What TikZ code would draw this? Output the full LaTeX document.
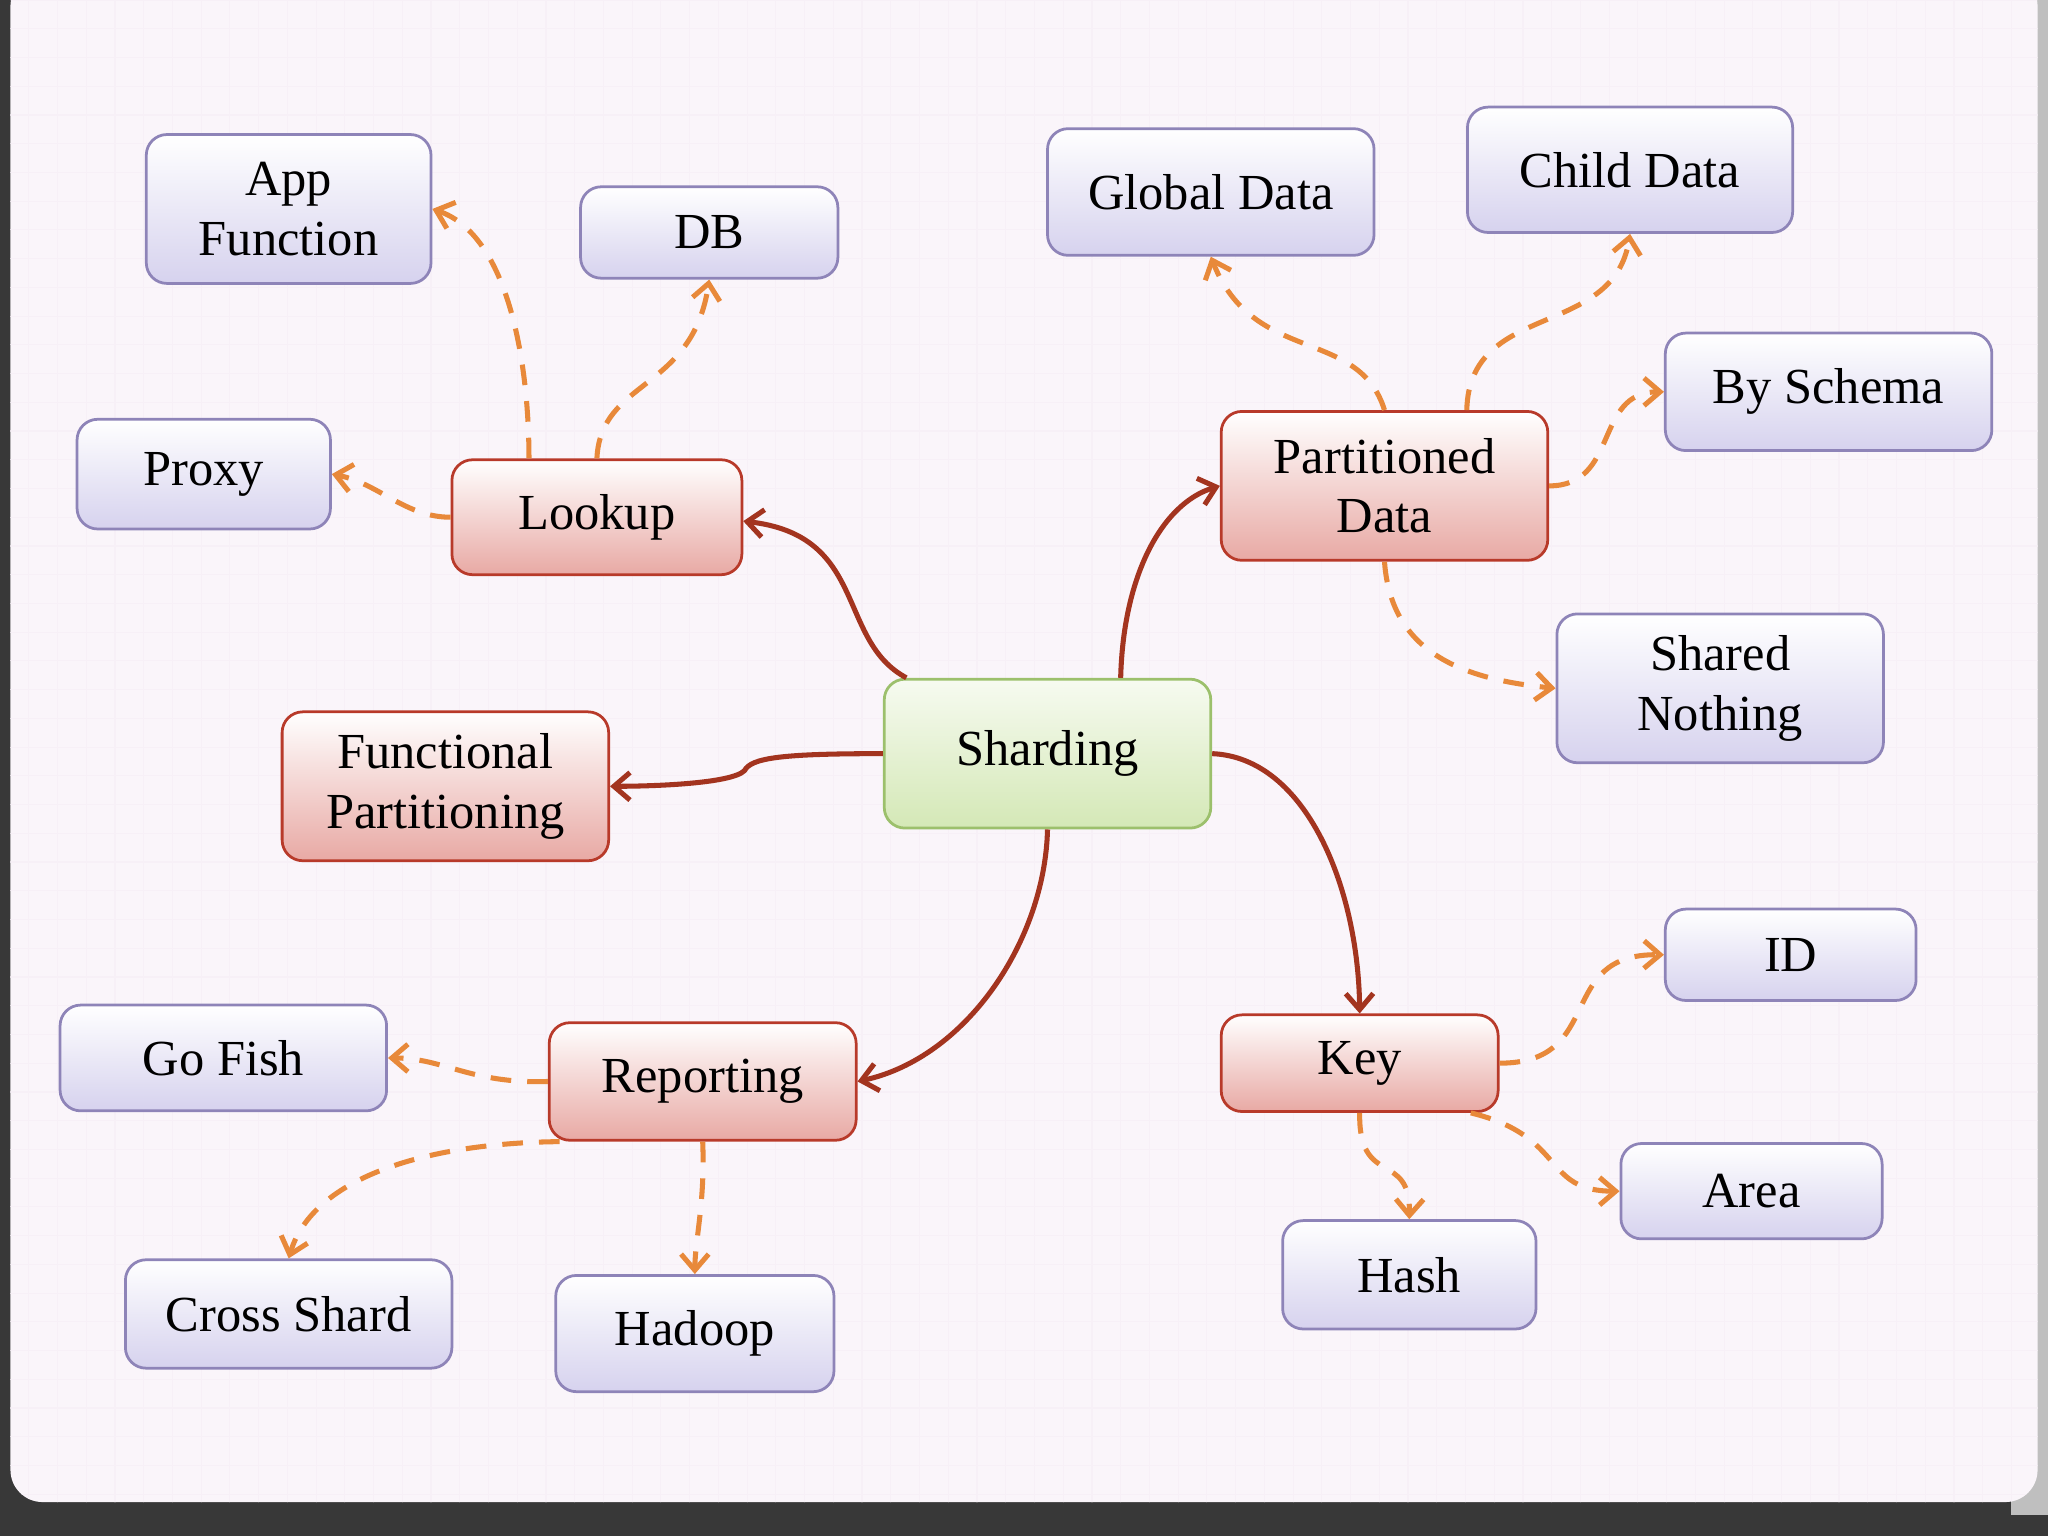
\documentclass[tikz,border=0pt]{standalone}
\usepackage{fontspec}
\setmainfont{Liberation Serif}
\usetikzlibrary{arrows.meta,shadings}
\definecolor{bbord}{HTML}{8E84B8}
\definecolor{bbot}{HTML}{D6D2EE}
\definecolor{rbord}{HTML}{B83A2A}
\definecolor{rbot}{HTML}{E8A9A4}
\definecolor{gbord}{HTML}{9CC06C}
\definecolor{gbot}{HTML}{D4E8B6}
\definecolor{solidc}{HTML}{A3341F}
\definecolor{dashc}{HTML}{E8893A}
\tikzset{
 box/.style={rounded corners=9pt, line width=1.2pt, align=center, font=\fontsize{22}{26}\selectfont, inner sep=2pt},
 bluebox/.style={box, draw=bbord, top color=white, bottom color=bbot},
 redbox/.style={box, draw=rbord, top color=white, bottom color=rbot},
 greenbox/.style={box, draw=gbord, top color=white!80!gbot, bottom color=gbot},
 sz/.style 2 args={minimum width=#1*0.02cm, minimum height=#2*0.02cm},
 solid link/.style={draw=solidc, line width=2.2pt, -{Straight Barb[length=7pt,width=12pt]}},
 dash link/.style={draw=dashc, line width=2.2pt, dash pattern=on 9pt off 7pt, -{Straight Barb[length=7pt,width=12pt]}}
}
\begin{document}
\begin{tikzpicture}[x=0.02cm,y=-0.02cm]
\useasboundingbox (0,0) rectangle (1568,1176);
\fill[black!78] (0,0) rectangle (1568,1176);
\fill[black!25] (1540,-20) rectangle (1568,1160);
\fill[white!96!violet, rounded corners=14pt] (8,-20) rectangle (1560,1150);
\begin{scope}
\clip[rounded corners=14pt] (8,-20) rectangle (1560,1150);
\draw[violet!6, line width=0.5pt, step=22*0.02cm] (0,0) grid (1568,1176);
\end{scope}
\node[greenbox, sz={250}{114}] (sh) at (802,577) {Sharding};
\node[redbox, sz={222}{88}] (lk) at (457,396) {Lookup};
\node[redbox, sz={250}{114}] (fp) at (341,602) {Functional\\Partitioning};
\node[redbox, sz={250}{114}] (pd) at (1060,372) {Partitioned\\Data};
\node[redbox, sz={212}{74}] (ky) at (1041,814) {Key};
\node[redbox, sz={235}{90}] (rp) at (538,828) {Reporting};
\node[bluebox, sz={218}{114}] (af) at (221,160) {App\\Function};
\node[bluebox, sz={197}{70}] (db) at (543,178) {DB};
\node[bluebox, sz={194}{84}] (px) at (156,363) {Proxy};
\node[bluebox, sz={250}{97}] (gd) at (927,147) {Global Data};
\node[bluebox, sz={249}{96}] (cd) at (1248,130) {Child Data};
\node[bluebox, sz={250}{90}] (bs) at (1400,300) {By Schema};
\node[bluebox, sz={250}{114}] (sn) at (1317,527) {Shared\\Nothing};
\node[bluebox, sz={192}{70}] (id) at (1371,731) {ID};
\node[bluebox, sz={200}{73}] (ar) at (1341,912) {Area};
\node[bluebox, sz={194}{83}] (hs) at (1079,976) {Hash};
\node[bluebox, sz={250}{81}] (gf) at (171,810) {Go Fish};
\node[bluebox, sz={250}{83}] (cs) at (221,1006) {Cross Shard};
\node[bluebox, sz={213}{89}] (hd) at (532,1021) {Hadoop};
% solid
\draw[solid link] ([xshift=18*0.02cm]sh.north west) .. controls (640,490) and (665,410) .. ([yshift=-3*0.02cm]lk.east);
\draw[solid link] (sh.west) .. controls (600,577) and (575,580) .. (570,590) .. controls (560,600) and (500,602) .. (fp.east);
\draw[solid link] ([xshift=56*0.02cm]sh.north) .. controls (860,440) and (890,385) .. (pd.west);
\draw[solid link] (sh.east) .. controls (1000,580) and (1040,680) .. (ky.north);
\draw[solid link] (sh.south) .. controls (800,720) and (740,810) .. (rp.east);
% dashed
\draw[dash link] ([xshift=-52*0.02cm]lk.north) .. controls (405,280) and (390,180) .. (af.east);
\draw[dash link] (lk.north) .. controls (460,290) and (530,300) .. (db.south);
\draw[dash link] (lk.west) .. controls (310,396) and (290,370) .. (px.east);
\draw[dash link] (pd.north) .. controls (1040,250) and (960,280) .. (gd.south);
\draw[dash link] ([xshift=63*0.02cm]pd.north) .. controls (1125,230) and (1235,260) .. (cd.south);
\draw[dash link] (pd.east) .. controls (1240,372) and (1220,300) .. (bs.west);
\draw[dash link] (pd.south) .. controls (1065,500) and (1120,520) .. (sn.west);
\draw[dash link] (ky.east) .. controls (1230,814) and (1190,730) .. (id.west);
\draw[dash link] ([xshift=-22*0.02cm]ky.south east) .. controls (1200,870) and (1180,912) .. (ar.west);
\draw[dash link] (ky.south) .. controls (1040,910) and (1080,880) .. (hs.north);
\draw[dash link] (rp.west) .. controls (360,830) and (340,810) .. (gf.east);
\draw[dash link] ([xshift=9*0.02cm]rp.south west) .. controls (330,875) and (240,900) .. (cs.north);
\draw[dash link] (rp.south) .. controls (540,920) and (532,950) .. (hd.north);
\end{tikzpicture}
\end{document}
